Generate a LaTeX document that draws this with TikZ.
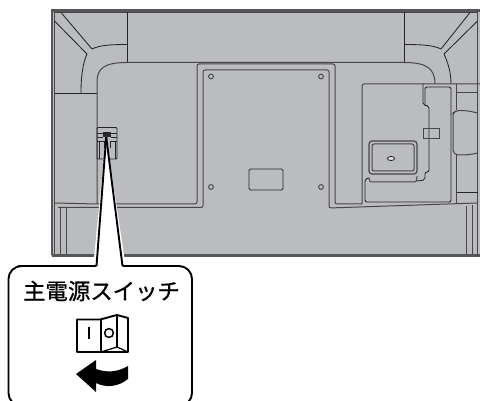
\documentclass[tikz,border=0pt]{standalone}
\usepackage{fontspec}
\newfontfamily\cjk[FakeBold=.8]{Noto Sans CJK JP}
\definecolor{panelgray}{HTML}{BBBCBF}
\definecolor{edgegray}{HTML}{555658}
\tikzset{
	rim/.style = {draw = edgegray, line width = 2.4pt},
	ln/.style = {draw = black!85, line width = .85pt},
	lnsoft/.style = {draw = black!72, line width = 1pt},
	callout/.style = {draw = black, line width = 1.9pt}
}
\begin{document}
\begin{tikzpicture}[x = 1pt, y = -1pt]
	\clip (0,0) rectangle (480,401);
	\fill[white] (0,0) rectangle (480,401);
	\fill[panelgray] (51,10) rectangle (480,256); %panel
	\draw[rim] (52,255) -- (52,10.5) -- (480,10.5); %top and left rim
	\draw[rim] (52,255.5) -- (480,255.5); %bottom rim
	\draw[lnsoft] (54.5,254) -- (54.5,12.5) -- (477.5,12.5) -- (477.5,256); %inner rim
	% corners
	\draw[ln] (61,12.5) -- (92,49); 
	\draw[ln] (54.5,21) -- (87,54);
	\draw[ln] (92,49) .. controls (100,45) and (112,44.5) .. (127,44.5);
	\draw[ln] (87,54) .. controls (83,63) and (81,75) .. (81,93);
	\draw[ln] (470,12.5) -- (441,49);
	\draw[ln] (477.5,21) -- (444,54);
	\draw[ln] (441,49) .. controls (433,45) and (420,44.5) .. (404,44.5);
	\draw[ln] (444,54) .. controls (448,63) and (451,72) .. (451,84);
	\draw[ln] (127,12.5) -- (127,62.5);
	\draw[ln] (404,12.5) -- (404,62.5);
	\draw[ln] (54.5,93) -- (97,93);
	% stepped outlines
	\draw[lnsoft] (97,204) -- (97,82) .. controls (97,68) and (105,62.5) .. (127,62.5) -- (404,62.5)
		.. controls (426,62.5) and (435,68) .. (435,84);
	\draw[lnsoft, rounded corners = 2pt] (54.5,203) -- (97,204) -- (197,204) -- (197,64) -- (335,64) -- (335,204) -- (362,204);
	\draw[lnsoft, rounded corners = 2pt] (58,207.5) -- (203,207.5) -- (203,70) -- (329,70) -- (329,208) -- (477,203);
	% mount holes
	\foreach \hx in {211,321}
		\foreach \hy in {76.5,187}
			\draw[lnsoft] (\hx,\hy) circle (2.4);
	\draw[ln, rounded corners = 1.5pt] (249,169) rectangle (283,190);
	% right hand block
	\draw[lnsoft, rounded corners = 2pt] (362,204) -- (362,84) -- (480,84);
	\draw[ln, rounded corners = 2pt] (423,84) -- (423,105) -- (429,106) -- (429,172) -- (425,172) -- (425,180) -- (417,181);
	\draw[ln, rounded corners = 2pt] (425,105) -- (425,87) -- (451,87) -- (451,202) -- (365,202) -- (365,179) -- (369,178);
	\draw[lnsoft, rounded corners = 1pt] (369,178) -- (370,182) -- (416,182) -- (417,178) -- (417,176);
	\draw[lnsoft] (423,129) -- (439,129) -- (439,139) -- (423,139) -- cycle;
	\draw[lnsoft, rounded corners = 3pt, line width = 1.2pt] (369,141) rectangle (417,174);
	\draw[lnsoft, rounded corners = 2pt] (372,144) rectangle (414,171);
	\draw[ln, fill = panelgray!40] (391,158.5) ellipse (3.6 and 2);
	\draw[lnsoft] (456.5,84) -- (456.5,110);
	\draw[lnsoft] (456.5,93) -- (477.5,93);
	\draw[lnsoft, rounded corners = 2pt] (477.5,113) .. controls (470,111) and (462,110) .. (456,111) -- (453,113) -- (453,152) -- (456,155) .. controls (462,155) and (470,155) .. (477.5,153);
	\draw[lnsoft] (456.5,155) -- (456.5,203);
	\draw[ln] (456.5,192.5) -- (477.5,192.5);
	\draw[lnsoft] (466,206) -- (466,254);
	\draw[lnsoft] (472,205) -- (472,254);
	% left hand foot
	\draw[lnsoft] (60,208) -- (60,254);
	\draw[lnsoft] (66,208) -- (66,254);
	% switch on the panel
	\draw[ln, rounded corners = 1pt] (97,159) -- (97,127.5) -- (117,127.5) -- (117,159) -- cycle;
	\draw[ln] (97,133.5) -- (117,133.5);
	\draw[ln] (97,137) -- (103,137) (111,137) -- (117,137);
	\fill[black!85] (103,132) rectangle (111,137);
	\draw[ln] (97,141.5) -- (104,141.5) -- (104,148) (99,141.5) -- (99,159);
	\draw[ln] (117,141.5) -- (110,141.5) -- (110,148) (115,141.5) -- (115,159);
	% callout
	\draw[callout, fill = white, rounded corners = 13pt] (8.5,406) -- (8.5,266) -- (192,266) -- (192,406) -- cycle;
	\fill[white] (106,136) -- (93,268) -- (126,268) -- cycle; %halo
	\fill[white] (100,268) rectangle (119,264);
	\draw[callout, rounded corners = 1pt] (18,266) -- (96.5,266) -- (106.2,137);
	\draw[callout, rounded corners = 1pt] (106.2,137) -- (122.5,266) -- (180,266);
	\node (title) at (101.5,291) {\fontsize{22.4pt}{24pt}\cjk 主電源スイッチ};
	% rocker
	\draw[callout, line join = round] (77,352) -- (77,319.5) -- (100,319.5) .. controls (107,318) and (112,316) .. (117,315) -- (128,318) -- (128,352) -- cycle;
	\draw[line width = 1.2pt] (101,320) -- (101,352);
	\draw[line width = 1.2pt] (117,315) -- (117,347);
	\draw[line width = 1.2pt] (101,352) -- (117,347) -- (128,352);
	\draw[line width = 1.9pt] (89,327) -- (89,339);
	\draw[line width = 1.5pt] (109,333) circle (4.4);
	% arrow
	\fill[black] (76,374) -- (96,360) -- (96,369) .. controls (107,373) and (118,372) .. (128,366)
		-- (128,379) .. controls (118,387) and (106,388) .. (96,383) -- (96,392) -- cycle;
\end{tikzpicture}
\end{document}
